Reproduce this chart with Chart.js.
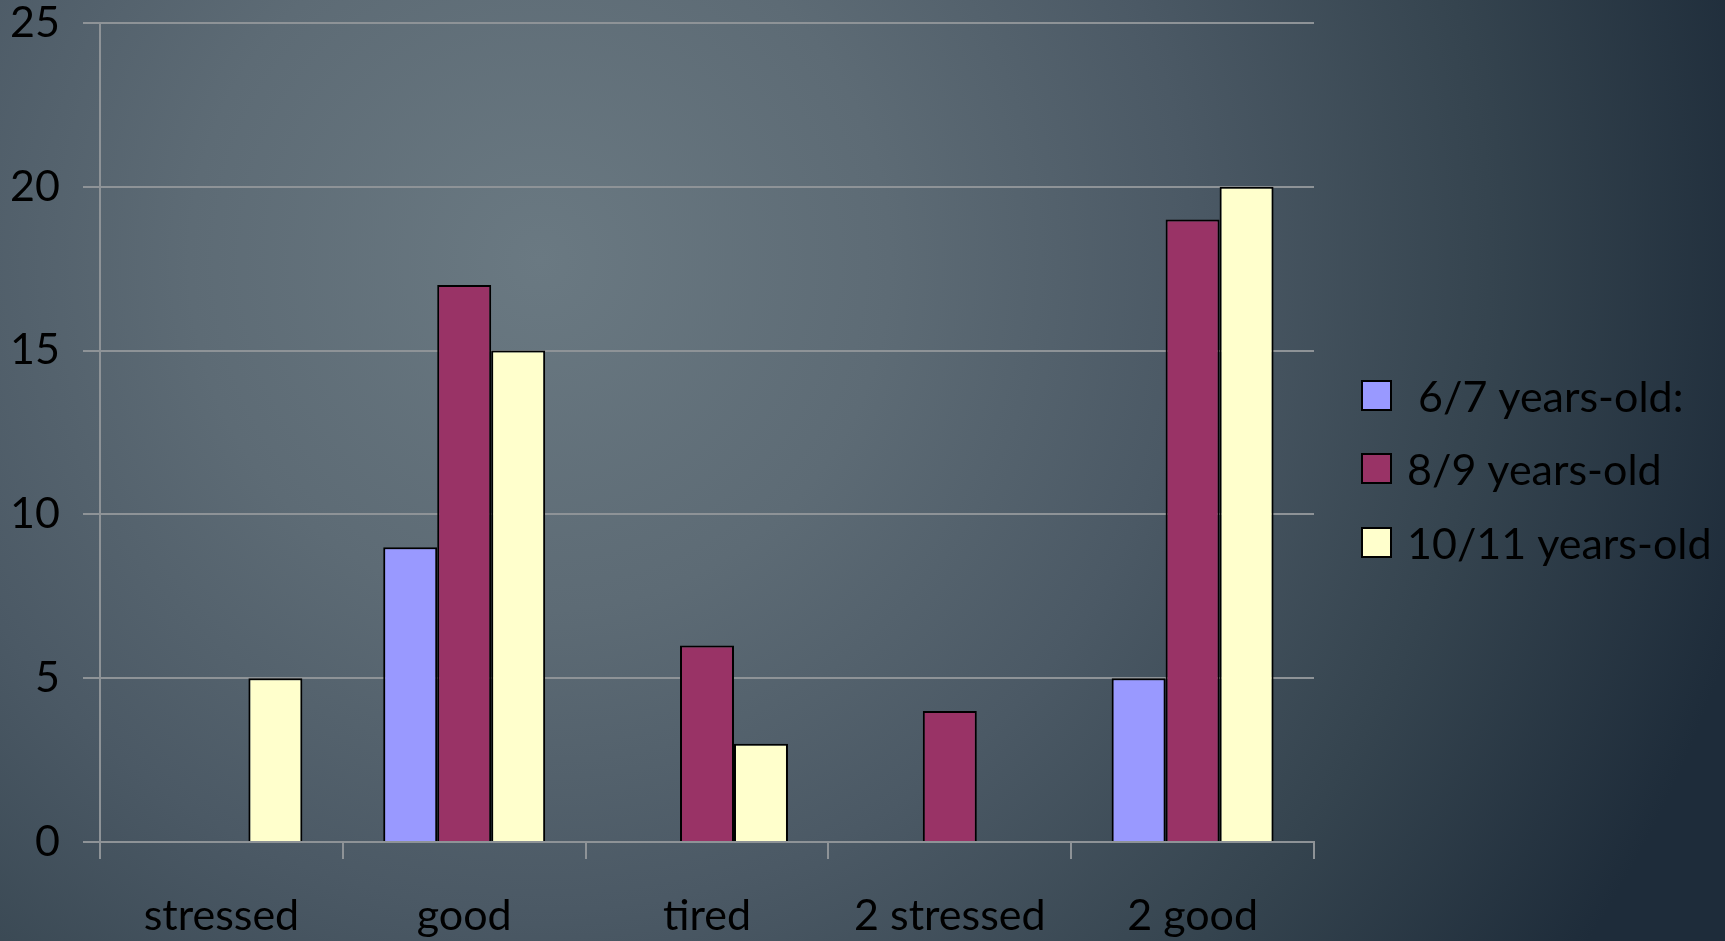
<!DOCTYPE html>
<html>
<head>
<meta charset="utf-8">
<script src="https://cdn.jsdelivr.net/npm/chart.js@4.4.0/dist/chart.umd.min.js"></script>
<style>
  html, body { margin: 0; padding: 0; overflow: hidden; }
  body {
    width: 1725px; height: 941px;
    background: radial-gradient(circle at 540px 260px, #6a7982 0px, #5d6b75 350px, #4b5965 650px, #35444f 950px, #1e2c3a 1250px);
  }
  canvas { display: block; }
</style>
</head>
<body>
<canvas id="chart-feelings" width="1725" height="941"></canvas>
<script>
var categories = ['stressed', 'good', 'tired', '2 stressed', '2 good'];
var seriesNames = [' 6/7 years-old:', '8/9 years-old', '10/11 years-old'];
var age67 = [0, 9, 0, 0, 5];
var age89 = [0, 17, 6, 4, 19];
var age1011 = [5, 15, 3, 0, 20];
var yTicks = [0, 5, 10, 15, 20, 25];
var colors = ['#9999FF', '#993366', '#FFFFCC'];

var fontFamily = "Lato, 'Open Sans', sans-serif";
var fontSize = 43;
var gridColor = '#8e9397';

// legend drawn next to the plot, like the office chart
var sideLegend = {
    id: 'sideLegend',
    afterDraw: function(chart) {
        var ctx = chart.ctx;
        var x = chart.chartArea.right + 48;
        var rows = [395, 468, 542];
        ctx.save();
        ctx.font = fontSize + 'px ' + fontFamily;
        ctx.textBaseline = 'middle';
        chart.data.datasets.forEach(function(ds, i) {
            var y = rows[i];
            ctx.fillStyle = ds.backgroundColor;
            ctx.fillRect(x, y - 14, 29, 29);
            ctx.lineWidth = 2;
            ctx.strokeStyle = '#000';
            ctx.strokeRect(x, y - 14, 29, 29);
            ctx.fillStyle = '#000';
            ctx.fillText(ds.label, x + 45, y + 3);
        });
        ctx.restore();
    }
};

var ctx = document.getElementById('chart-feelings');
var myChart = new Chart(ctx, {
    type: 'bar',
    data: {
        labels: categories,
        datasets: [
            { label: seriesNames[0], data: age67, backgroundColor: colors[0] },
            { label: seriesNames[1], data: age89, backgroundColor: colors[1] },
            { label: seriesNames[2], data: age1011, backgroundColor: colors[2] }
        ]
    },
    options: {
        responsive: false,
        animation: false,
        layout: { padding: { top: 23, right: 411, left: 0, bottom: 0 } },
        datasets: {
            bar: {
                borderColor: '#000',
                borderWidth: 2,
                borderSkipped: 'bottom',
                categoryPercentage: 0.667,
                barPercentage: 1.0
            }
        },
        plugins: {
            legend: { display: false },
            tooltip: { enabled: false }
        },
        scales: {
            x: {
                grid: {
                    drawOnChartArea: false,
                    drawTicks: true,
                    tickLength: 17,
                    color: gridColor,
                    lineWidth: 2
                },
                border: { color: gridColor, width: 2 },
                ticks: {
                    color: '#000',
                    font: { family: fontFamily, size: fontSize, lineHeight: 1 },
                    padding: 36,
                    maxRotation: 0
                },
                afterFit: function(scale) {
                    scale.height = 99;
                    scale.paddingLeft = 0;
                    scale.paddingRight = 0;
                }
            },
            y: {
                min: 0,
                max: 25,
                afterBuildTicks: function(scale) {
                    scale.ticks = yTicks.map(function(v) { return { value: v }; });
                },
                grid: {
                    color: gridColor,
                    lineWidth: 2,
                    tickLength: 17
                },
                border: { color: gridColor, width: 2 },
                ticks: {
                    color: '#000',
                    font: { family: fontFamily, size: fontSize, lineHeight: 1 },
                    padding: 23
                },
                afterFit: function(scale) {
                    scale.width = 100;
                    scale.paddingTop = 0;
                    scale.paddingBottom = 0;
                }
            }
        }
    },
    plugins: [sideLegend]
});
</script>
</body>
</html>
